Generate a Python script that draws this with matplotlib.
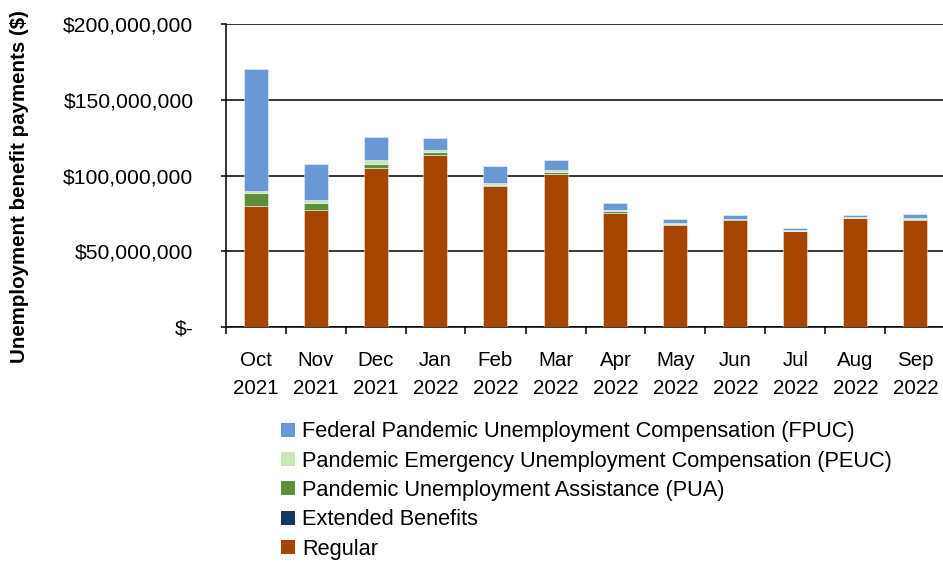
import matplotlib
matplotlib.use("Agg")
import matplotlib.pyplot as plt
from matplotlib.patches import Patch
from matplotlib.ticker import FuncFormatter, FixedLocator
import numpy as np

plt.rcParams["font.family"] = ["Liberation Sans", "DejaVu Sans"]

months = ["Oct\n2021", "Nov\n2021", "Dec\n2021", "Jan\n2022", "Feb\n2022", "Mar\n2022",
          "Apr\n2022", "May\n2022", "Jun\n2022", "Jul\n2022", "Aug\n2022", "Sep\n2022"]

# Monthly payments in millions of dollars
regular = [80.1, 77.2, 104.7, 113.5, 92.9, 101.2, 75.2, 67.3, 70.6, 63.4, 71.7, 70.8]
extended = [0.0] * 12
pua = [8.3, 4.4, 3.1, 2.2, 1.1, 1.3, 1.2, 0.8, 0.4, 0.2, 0.5, 0.7]
peuc = [1.5, 2.0, 2.4, 1.1, 0.9, 1.1, 0.6, 0.5, 0.3, 0.1, 0.3, 0.4]
fpuc = [80.3, 24.2, 15.0, 8.2, 11.5, 6.6, 5.1, 2.7, 2.6, 1.6, 1.4, 2.4]

series = [
    ("Regular", regular, "#A44600"),
    ("Extended Benefits", extended, "#14385F"),
    ("Pandemic Unemployment Assistance (PUA)", pua, "#5F8F3C"),
    ("Pandemic Emergency Unemployment Compensation (PEUC)", peuc, "#C9E6B8"),
    ("Federal Pandemic Unemployment Compensation (FPUC)", fpuc, "#6A98D4"),
]

W, H = 943, 563
fig = plt.figure(figsize=(W / 100, H / 100), dpi=100)
ax = fig.add_axes([225.5 / W, 1 - 327 / H, 720 / W, 303 / H])

x = np.arange(len(months))
bottom = np.zeros(len(months))
for name, vals, color in series:
    v = np.array(vals) * 1e6
    ax.bar(x, v, width=0.4, bottom=bottom, color=color,
           edgecolor=(1, 1, 1, 0.5), linewidth=0.6, zorder=3, label=name)
    bottom += v

ax.set_xlim(-0.5, len(months) - 0.5)
ax.set_ylim(0, 200e6)
ax.set_yticks(np.arange(0, 200e6 + 1, 50e6))
ax.yaxis.set_major_formatter(FuncFormatter(lambda v, p: "$-" if v == 0 else f"${v:,.0f}"))
ax.grid(axis="y", color="black", linewidth=1.1, zorder=1)
ax.set_axisbelow(True)

ax.set_xticks(x)
ax.set_xticklabels(months, linespacing=1.6)
ax.xaxis.set_minor_locator(FixedLocator(np.arange(-0.5, len(months), 1.0)))
ax.tick_params(axis="x", which="major", length=0, pad=17.5, labelsize=14.8)
ax.tick_params(axis="x", which="minor", length=5, width=1.1, direction="out", color="black")
ax.tick_params(axis="y", length=3.6, width=1.1, direction="out", pad=19.5, labelsize=15.2)

for s in ["top", "right"]:
    ax.spines[s].set_visible(False)
for s in ["left", "bottom"]:
    ax.spines[s].set_linewidth(1.1)
    ax.spines[s].set_color("black")

fig.text(20 / W, 1 - 186.5 / H, "Unemployment benefit payments ($)", rotation=90,
         ha="center", va="center", fontsize=14.8, fontweight="bold")

handles = [Patch(facecolor=c, edgecolor="none", label=n) for n, _, c in series][::-1]
fig.legend(handles=handles, loc="upper left", bbox_to_anchor=(281 / W, 1 - 421.5 / H),
           frameon=False, fontsize=15.7, handlelength=0.64, handleheight=0.61,
           handletextpad=0.32, labelspacing=0.38, borderaxespad=0, borderpad=0)

fig.savefig("out.png", dpi=100)
